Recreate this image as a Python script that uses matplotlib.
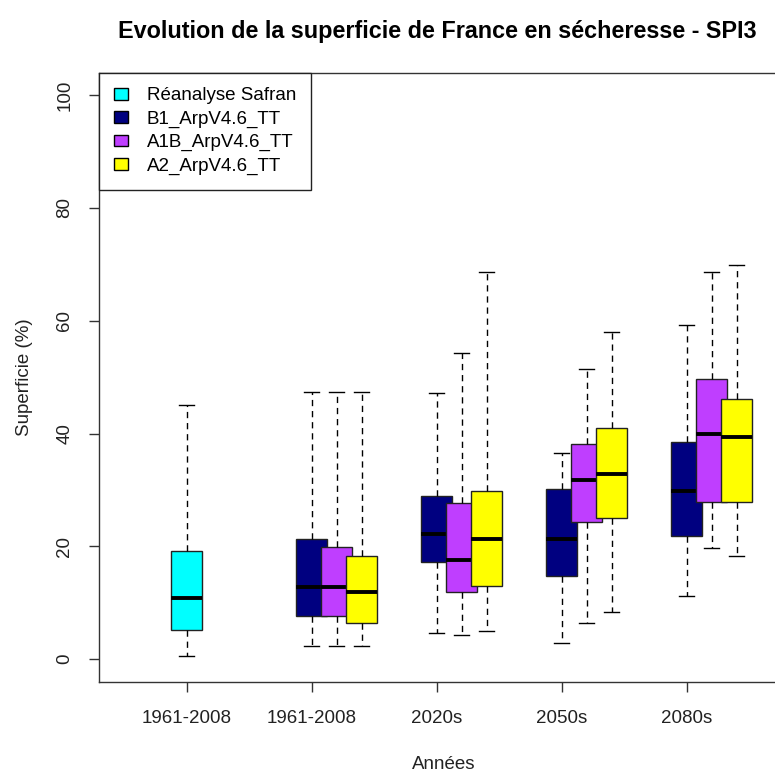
import matplotlib
matplotlib.use("Agg")
import matplotlib.pyplot as plt
from matplotlib.patches import Patch

plt.rcParams["font.family"] = ["Liberation Sans", "DejaVu Sans"]

# Drought surface (% of France), SPI3 — box statistics per period
periods = ["1961-2008", "1961-2008", "2020s", "2050s", "2080s"]

# Safran reanalysis, reference period only
safran_q = {"whislo": 0.6, "q1": 5.1, "med": 10.8, "q3": 19.1, "whishi": 45.1}

# Scenario runs: one value per period (1961-2008, 2020s, 2050s, 2080s)
b1_whislo = [2.4, 4.7, 2.9, 11.2]
b1_q1 = [7.7, 17.3, 14.7, 21.9]
b1_med = [12.7, 22.1, 21.3, 29.8]
b1_q3 = [21.3, 28.9, 30.2, 38.5]
b1_whishi = [47.3, 47.1, 36.5, 59.2]

a1b_whislo = [2.4, 4.2, 6.4, 19.7]
a1b_q1 = [7.7, 11.9, 24.3, 27.9]
a1b_med = [12.7, 17.5, 31.8, 39.9]
a1b_q3 = [19.8, 27.6, 38.1, 49.7]
a1b_whishi = [47.3, 54.2, 51.5, 68.6]

a2_whislo = [2.4, 4.9, 8.4, 18.2]
a2_q1 = [6.4, 13.0, 25.0, 27.9]
a2_med = [11.9, 21.3, 32.9, 39.4]
a2_q3 = [18.2, 29.8, 40.9, 46.2]
a2_whishi = [47.3, 68.6, 58.0, 69.9]

labels = ["Réanalyse Safran", "B1_ArpV4.6_TT", "A1B_ArpV4.6_TT", "A2_ArpV4.6_TT"]
colors = ["#00FFFF", "#000080", "#BF3EFF", "#FFFF00"]


def make_stats(lo, q1, med, q3, hi):
    return [dict(whislo=a, q1=b, med=c, q3=d, whishi=e, fliers=[])
            for a, b, c, d, e in zip(lo, q1, med, q3, hi)]


series = [
    ([safran_q], [1]),
    (make_stats(b1_whislo, b1_q1, b1_med, b1_q3, b1_whishi), [2, 3, 4, 5]),
    (make_stats(a1b_whislo, a1b_q1, a1b_med, a1b_q3, a1b_whishi), [2.2, 3.2, 4.2, 5.2]),
    (make_stats(a2_whislo, a2_q1, a2_med, a2_q3, a2_whishi), [2.4, 3.4, 4.4, 5.4]),
]

fig = plt.figure(figsize=(7.75, 7.74), dpi=100)
# right edge of the frame sits just past the canvas
ax = fig.add_axes([99 / 775, (774 - 681.7) / 774, 690 / 775, 609.2 / 774])

width = 0.25
for i, ((stats, pos), col) in enumerate(zip(series, colors)):
    ax.bxp(stats, positions=pos, widths=width, patch_artist=True,
           showfliers=False, manage_ticks=False, capwidths=width / 2,
           boxprops=dict(facecolor=col, edgecolor="#222222", linewidth=1.0),
           medianprops=dict(color="black", linewidth=2.8, solid_capstyle="butt"),
           whiskerprops=dict(color="black", linewidth=1.0, linestyle=(0, (4.5, 3.5))),
           capprops=dict(color="black", linewidth=1.0),
           zorder=2 + i)

ax.set_xlim(0.3, 0.3 + 690 / 125)
ax.set_ylim(-4, 104)
ax.set_xticks([1, 2, 3, 4, 5])
ax.set_xticklabels(periods)
ax.set_yticks([0, 20, 40, 60, 80, 100])
ax.set_yticklabels(["0", "20", "40", "60", "80", "100"], rotation=90, va="center")
ax.tick_params(axis="both", labelsize=13.5, length=7.5, width=1.0, color="#333333",
               labelcolor="#222222")
ax.tick_params(axis="x", pad=13)
ax.tick_params(axis="y", pad=11)
for sp in ax.spines.values():
    sp.set_color("#333333")
    sp.set_linewidth(1.0)

ax.set_title("Evolution de la superficie de France en sécheresse - SPI3",
             fontsize=16.8, fontweight="bold", pad=25, x=0.49)
ax.set_xlabel("Années", fontsize=13.5, labelpad=21, color="#222222")
ax.set_ylabel("Superficie (%)", fontsize=13.5, labelpad=17, color="#222222")

handles = [Patch(facecolor=c, edgecolor="black", linewidth=1.0) for c in colors]
ax.legend(handles, labels, loc="upper left", bbox_to_anchor=(0, 1),
          borderaxespad=0, fancybox=False, edgecolor="#222222", framealpha=1,
          fontsize=13.5, handlelength=0.75, handleheight=0.6,
          handletextpad=1.0, labelspacing=0.33, borderpad=0.8)
ax.get_legend().get_frame().set_linewidth(1.0)
ax.get_legend().set_zorder(10)

fig.savefig("out.png", dpi=100)
